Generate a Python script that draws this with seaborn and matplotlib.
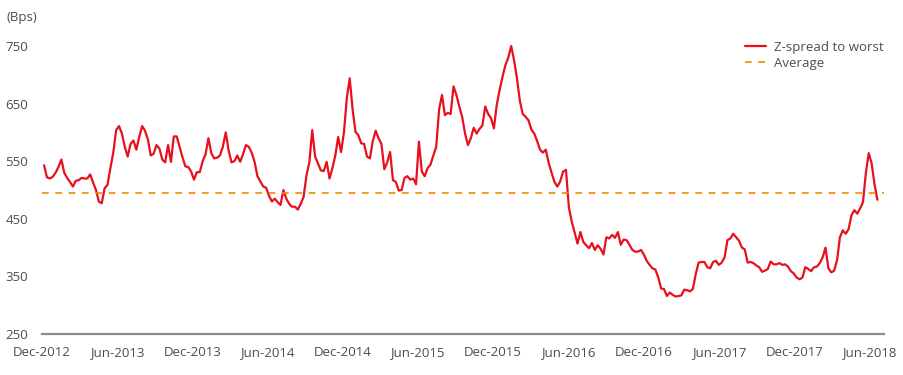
import numpy as np
import pandas as pd
import matplotlib
matplotlib.use("Agg")
import matplotlib.pyplot as plt
import matplotlib.dates as mdates
import seaborn as sns

# ---- data (weekly Z-spread to worst, bps) ----
start_date = "2012-12-06"
spread = [
    543, 522, 520, 523, 530, 540, 553, 530, 521, 514,
    506, 516, 517, 521, 520, 520, 527, 513, 500, 480,
    477, 503, 509, 538, 565, 604, 611, 598, 575, 558,
    580, 586, 570, 592, 611, 603, 588, 560, 563, 578,
    572, 553, 548, 578, 549, 593, 593, 575, 557, 541,
    540, 532, 518, 531, 531, 550, 562, 590, 564, 555,
    556, 560, 575, 600, 569, 548, 550, 560, 549, 562,
    578, 575, 565, 549, 524, 515, 506, 504, 490, 480,
    485, 479, 474, 500, 485, 476, 471, 471, 466, 476,
    488, 525, 548, 604, 558, 546, 534, 533, 549, 520,
    538, 560, 592, 566, 600, 660, 694, 640, 601, 595,
    581, 580, 558, 555, 585, 603, 590, 580, 536, 548,
    566, 517, 514, 499, 500, 521, 524, 518, 520, 510,
    584, 532, 524, 538, 544, 560, 575, 640, 665, 630,
    634, 632, 680, 665, 645, 627, 598, 578, 590, 608,
    598, 606, 612, 645, 632, 625, 607, 648, 674, 697,
    717, 730, 750, 725, 694, 655, 632, 627, 621, 605,
    598, 585, 570, 565, 570, 547, 530, 514, 506, 515,
    532, 535, 470, 445, 426, 407, 427, 410, 404, 399,
    408, 396, 404, 398, 388, 418, 416, 422, 417, 427,
    405, 414, 413, 405, 396, 393, 393, 396, 388, 377,
    370, 364, 362, 348, 329, 328, 316, 322, 318, 315,
    316, 317, 327, 326, 324, 328, 354, 374, 375, 375,
    366, 364, 375, 377, 370, 374, 383, 413, 416, 424,
    418, 412, 400, 397, 374, 375, 373, 369, 366, 358,
    360, 363, 376, 371, 371, 373, 370, 371, 367, 359,
    355, 348, 345, 348, 366, 363, 359, 366, 367, 373,
    383, 400, 364, 357, 360, 378, 418, 430, 424, 432,
    456, 465, 459, 468, 479, 530, 564, 546, 510, 483,
]
average = 495
tick_dates = ["2012-12-01", "2013-06-01", "2013-12-01", "2014-06-01",
              "2014-12-01", "2015-06-01", "2015-12-01", "2016-06-01",
              "2016-12-01", "2017-06-01", "2017-12-01", "2018-06-01"]
tick_labels = ["Dec-2012", "Jun-2013", "Dec-2013", "Jun-2014", "Dec-2014",
               "Jun-2015", "Dec-2015", "Jun-2016", "Dec-2016", "Jun-2017",
               "Dec-2017", "Jun-2018"]
y_ticks = [250, 350, 450, 550, 650, 750]

dates = pd.date_range(start_date, periods=len(spread), freq="7D")
df = pd.DataFrame({"date": dates, "spread": spread})

# ---- style ----
sns.set_style("white")
plt.rcParams["font.family"] = ["Open Sans", "DejaVu Sans"]
text_col = "#4d4d4d"
red = "#e8101c"
orange = "#f08a00"

fig = plt.figure(figsize=(9.04, 3.75), dpi=100)
ax = fig.add_axes([42 / 904, 41 / 375, 842 / 904, 299.5 / 375])

sns.lineplot(data=df, x="date", y="spread", ax=ax, color=red, linewidth=1.6,
             label="Z-spread to worst")
ax.axhline(average, color=orange, linewidth=1.2, dashes=(4, 4),
           label="Average")

ax.set_ylim(250, 770)
ax.set_xlim(pd.Timestamp("2012-12-03"), pd.Timestamp("2018-07-07"))
ax.set_yticks(y_ticks)
ax.set_yticklabels([str(v) for v in y_ticks])
ax.set_xticks(pd.to_datetime(tick_dates))
ax.set_xticklabels(tick_labels)
ax.tick_params(axis="both", length=0, labelsize=9.5, colors=text_col)
ax.tick_params(axis="y", pad=10)
ax.tick_params(axis="x", pad=9)
ax.set_xlabel("")
ax.set_ylabel("")

for s in ["top", "right", "left"]:
    ax.spines[s].set_visible(False)
ax.spines["bottom"].set_color("#8c8c8c")
ax.spines["bottom"].set_linewidth(1.6)
ax.grid(False)

fig.text(7 / 904, 1 - 17 / 375, "(Bps)", fontsize=9.5, color=text_col,
         va="center", ha="left")

leg = ax.legend(loc="upper left", bbox_to_anchor=(738 / 904, 1 - 34 / 375),
                bbox_transform=fig.transFigure, frameon=False, fontsize=9.5,
                handlelength=1.6, handletextpad=0.6, labelspacing=0.25,
                borderpad=0)
for t in leg.get_texts():
    t.set_color(text_col)

fig.savefig("out.png", dpi=100)
